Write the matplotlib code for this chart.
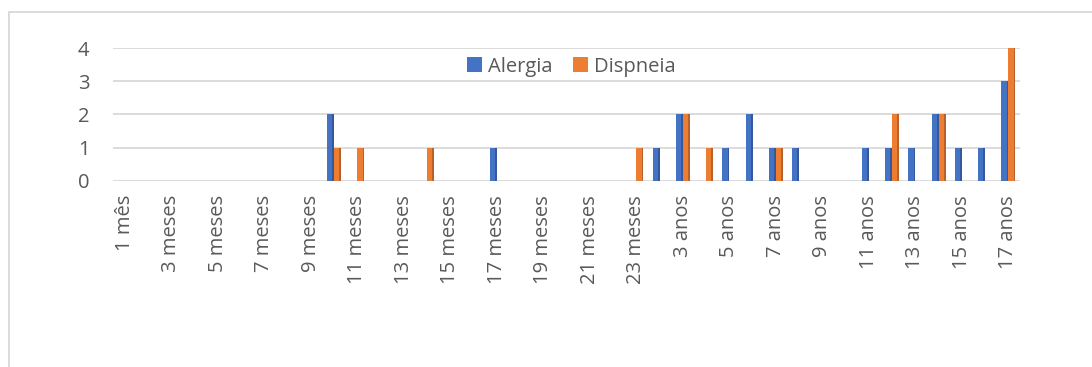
import matplotlib
matplotlib.use("Agg")
import matplotlib.pyplot as plt
import numpy as np
from matplotlib.patches import Rectangle

categories = (["1 mês"] + [f"{m} meses" for m in range(2, 24)] +
              ["2 anos"] + [f"{a} anos" for a in range(3, 18)])

alergia = [0, 0, 0, 0, 0, 0, 0, 0, 0, 2, 0, 0, 0, 0, 0, 0, 1, 0, 0, 0, 0, 0, 0,
           1, 2, 0, 1, 2, 1, 1, 0, 0, 1, 1, 1, 2, 1, 1, 3]
dispneia = [0, 0, 0, 0, 0, 0, 0, 0, 0, 1, 1, 0, 0, 1, 0, 0, 0, 0, 0, 0, 0, 0, 1,
            0, 2, 1, 0, 0, 1, 0, 0, 0, 0, 2, 0, 2, 0, 0, 4]

series = {"Alergia": alergia, "Dispneia": dispneia}
colors = {"Alergia": "#4472C4", "Dispneia": "#ED7D31"}
side_colors = {"Alergia": "#34589A", "Dispneia": "#B8612A"}

plt.rcParams['font.family'] = ['Open Sans', 'DejaVu Sans']
W, H = 1092, 367
fig = plt.figure(figsize=(W / 100, H / 100), dpi=100)
fig.patch.set_facecolor("white")

# outer chart border
fig.add_artist(Rectangle((9 / W, -0.1), 1.2, (H - 12) / H + 0.1,
                         transform=fig.transFigure, fill=False,
                         edgecolor="#D9D9D9", linewidth=1.3))

ax = fig.add_axes([113 / W, (H - 181) / H, 907 / W, 133 / H])
x = np.arange(len(categories))
bw = 0.3
for k, (name, vals) in enumerate(series.items()):
    off = (k - 0.5) * bw
    vals = np.array(vals)
    ax.bar(x + off, vals, width=bw, color=colors[name], label=name, zorder=3)
    # darker side strip for a 3D look
    ax.bar(x + off + bw / 2 - 0.035, vals, width=0.07, color=side_colors[name],
           zorder=4)

ax.set_xlim(-0.5, len(categories) - 0.5)
ax.set_ylim(0, 4)
ax.set_yticks(range(0, 5))
ax.set_xticks(x[::2])
ax.set_xticklabels(categories[::2], rotation=90)
fs = 14.5
ax.tick_params(axis="x", length=0, pad=10, labelsize=fs, labelcolor="#595959")
ax.tick_params(axis="y", length=0, pad=17, labelsize=fs, labelcolor="#595959")
for s in ax.spines.values():
    s.set_visible(False)
ax.grid(axis="y", color="#D9D9D9", linewidth=1.3, zorder=0)
ax.set_axisbelow(True)

handles, labels = ax.get_legend_handles_labels()
leg = ax.legend(handles[:2], labels[:2], loc="center", bbox_to_anchor=(0.505, 0.86),
                ncol=2, frameon=False, fontsize=fs, handlelength=0.75,
                handleheight=0.75, handletextpad=0.3, columnspacing=1.0)
for t in leg.get_texts():
    t.set_color("#595959")

fig.savefig("out.png", dpi=100, facecolor="white")
